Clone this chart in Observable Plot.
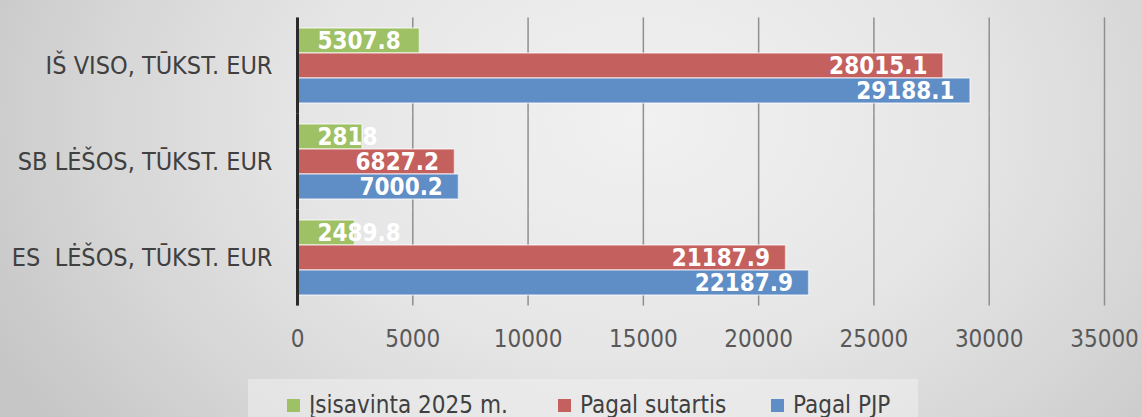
<!DOCTYPE html>
<html>
<head>
<meta charset="utf-8">
<script src="https://cdn.jsdelivr.net/npm/d3@7"></script>
<script src="https://cdn.jsdelivr.net/npm/@observablehq/plot@0.6"></script>
<style>
  html, body { margin: 0; padding: 0; }
  body {
    width: 1142px; height: 417px; overflow: hidden; position: relative;
    background: radial-gradient(ellipse 720px 520px at 640px 120px, #f1f1f1 0%, #e6e6e6 45%, #d6d6d6 75%, #c6c6c6 100%);
    font-family: "DejaVu Sans Condensed", "DejaVu Sans", sans-serif;
  }
  svg text { white-space: pre; }
  #legend {
    position: absolute; left: 248px; top: 379px; width: 670px; height: 50px;
    background: rgba(240,240,240,0.55);
    font-size: 24px; color: #404040; font-stretch: condensed;
  }
  .item { position: absolute; top: 12px; white-space: nowrap; line-height: 28px; }
  .sw { display: inline-block; width: 13px; height: 13px; margin-right: 9px; vertical-align: 1px; }
</style>
</head>
<body>
<div id="chart"></div>
<div id="legend"></div>
<script>
const categories = ["IŠ VISO, TŪKST. EUR", "SB LĖŠOS, TŪKST. EUR", "ES  LĖŠOS, TŪKST. EUR"];
const series = ["Įsisavinta 2025 m.", "Pagal sutartis", "Pagal PJP"];
const colors = ["#9fc165", "#c4605e", "#5f8dc5"];
const valuesIsisavinta = [5307.8, 2818, 2489.8];
const valuesSutartis = [28015.1, 6827.2, 21187.9];
const valuesPJP = [29188.1, 7000.2, 22187.9];
const xTicks = [0, 5000, 10000, 15000, 20000, 25000, 30000, 35000];

const seriesValues = [valuesIsisavinta, valuesSutartis, valuesPJP];
const data = [];
categories.forEach((c, i) => series.forEach((s, j) => data.push({category: c, series: s, value: seriesValues[j][i]})));

const font = "DejaVu Sans Condensed, DejaVu Sans, sans-serif";
const gapHalf = 9.6;
const plot = Plot.plot({
  width: 1142,
  height: 376,
  marginLeft: 297,
  marginRight: 38,
  marginTop: 17,
  marginBottom: 71,
  style: {background: "transparent", fontFamily: font, fontSize: "24px", overflow: "visible"},
  x: {domain: [0, 35000], ticks: xTicks, label: null},
  y: {domain: series, padding: 0, axis: null},
  fy: {domain: categories, paddingInner: 0.2, paddingOuter: 0.1, label: null, axis: null},
  color: {domain: series, range: colors},
  marks: [
    Plot.ruleX(xTicks.slice(1), {stroke: "#8f8f8f", strokeWidth: 1.5, insetTop: -gapHalf, insetBottom: -gapHalf}),
    Plot.axisX(xTicks, {tickSize: 0, tickPadding: 24 + gapHalf, tickFormat: d => String(d), fill: "#595959", fontSize: 24, label: null}),
    Plot.axisFy({anchor: "left", tickSize: 0, tickPadding: 25, fill: "#404040", fontSize: 25, label: null}),
    Plot.barX(data, {fy: "category", y: "series", x: "value", fill: "series", stroke: "#ffffff", strokeOpacity: 0.55, strokeWidth: 1.5}),
    Plot.text(data.filter(d => d.series === series[0]), {fy: "category", y: "series", x: 0, text: d => String(d.value), textAnchor: "start", dx: 20, fill: "white", fontWeight: "bold", fontSize: 24}),
    Plot.text(data.filter(d => d.series !== series[0]), {fy: "category", y: "series", x: "value", text: d => String(d.value), textAnchor: "end", dx: -16, fill: "white", fontWeight: "bold", fontSize: 24}),
    Plot.ruleX([0], {stroke: "#2a2a2a", strokeWidth: 3, insetTop: -gapHalf, insetBottom: -gapHalf})
  ]
});
document.getElementById("chart").appendChild(plot);

const legend = document.getElementById("legend");
const lefts = [39, 310, 523];
series.forEach((s, i) => {
  const d = document.createElement("div");
  d.className = "item";
  d.style.left = lefts[i] + "px";
  d.innerHTML = `<span class="sw" style="background:${colors[i]}"></span>${s}`;
  legend.appendChild(d);
});
</script>
</body>
</html>
